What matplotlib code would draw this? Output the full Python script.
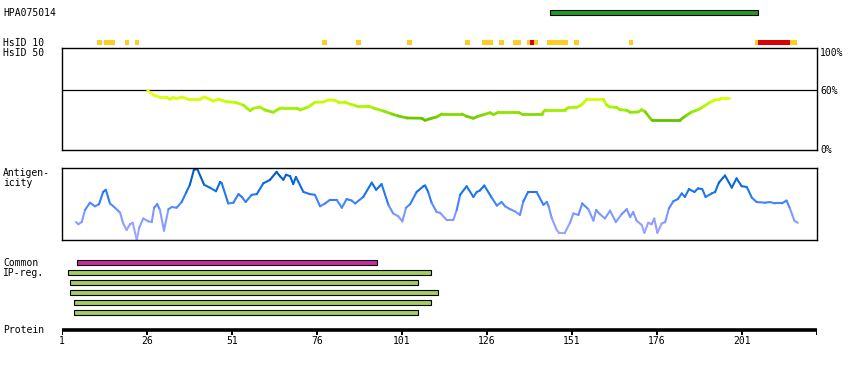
import matplotlib
matplotlib.use("Agg")
import matplotlib.pyplot as plt
import numpy as np
from matplotlib.collections import LineCollection
from matplotlib.colors import LinearSegmentedColormap

# ---------------- data ----------------
protein_length = 223.06
tick_residues = [1, 26, 51, 76, 101, 126, 151, 176, 201]

hpa_name = "HPA075014"
hpa_start, hpa_end = 144.6, 205.8

common_start, common_end = 5.5, 93.7
ip_starts = [2.7, 3.4, 3.4, 4.6, 4.6]
ip_ends = [109.6, 105.8, 111.6, 109.6, 105.8]

hsid10_yellow_start = [11.3, 13.4, 19.5, 22.5, 77.5, 87.5, 102.5, 119.5, 124.5, 129.5,
                       133.6, 137.8, 139.8, 143.6, 151.6, 167.8, 204.8, 215.1]
hsid10_yellow_end = [12.7, 16.6, 20.7, 23.6, 78.9, 88.9, 103.9, 120.9, 127.8, 130.9,
                     136.0, 138.6, 141.0, 149.8, 153.1, 169.0, 205.7, 217.2]
hsid10_red_start = [138.6, 205.7]
hsid10_red_end = [139.8, 215.1]

ident_res = [26.2, 27.9, 29.8, 31.8, 32.8, 33.7, 34.7, 36.2, 38.1, 41.6, 42.8, 44.5, 45.5,
             47.0, 49.4, 51.9, 54.3, 56.3, 57.3, 59.2, 60.7, 63.1, 65.1, 66.1, 70.0, 71.0,
             73.4, 75.4, 77.9, 79.3, 81.3, 82.3, 84.2, 85.7, 87.7, 91.1, 92.6, 95.5, 98.0,
             99.9, 102.4, 106.8, 107.8, 109.7, 111.2, 112.7, 118.6, 120.0, 122.0, 123.4,
             125.4, 126.9, 127.9, 129.3, 135.2, 136.2, 142.1, 143.1, 148.9, 149.9, 152.4,
             153.9, 155.3, 160.2, 161.2, 162.2, 164.1, 165.1, 167.1, 168.1, 170.5, 171.5,
             172.5, 174.4, 182.8, 184.7, 186.2, 188.1, 189.6, 191.6, 193.1, 194.5, 195.0, 197.2]
ident_pct = [59.6, 55.3, 53.0, 53.0, 51.0, 53.0, 51.6, 53.3, 51.0, 51.0, 53.3, 51.0, 49.2,
             51.0, 48.5, 47.9, 45.2, 39.5, 41.9, 43.2, 40.2, 37.9, 41.9, 42.2, 42.2, 40.2,
             43.2, 47.9, 48.2, 50.3, 49.9, 48.2, 48.2, 46.2, 44.2, 44.2, 42.2, 39.2, 36.2,
             34.2, 32.2, 31.9, 29.8, 31.9, 33.2, 36.2, 36.2, 33.9, 31.9, 33.9, 35.9, 37.5,
             35.5, 37.9, 37.9, 36.2, 36.2, 40.2, 40.2, 42.5, 42.9, 45.5, 51.0, 51.0, 45.2,
             43.2, 42.9, 40.5, 39.9, 37.9, 38.2, 40.5, 38.5, 30.2, 30.2, 34.9, 38.2, 40.5,
             43.5, 47.9, 50.3, 51.0, 52.3, 52.3]

anti_res = [5.1, 5.8, 6.8, 7.8, 9.2, 10.7, 11.9, 13.1, 13.9, 15.1, 16.6, 18.1, 19.0, 20.0,
            21.0, 21.8, 23.0, 23.7, 24.9, 26.4, 27.4, 28.1, 29.0, 29.8, 31.0, 32.3, 33.3,
            34.7, 36.2, 37.5, 38.6, 39.8, 40.8, 42.8, 44.5, 46.3, 47.5, 48.0, 49.9, 51.4,
            52.9, 53.9, 55.0, 56.8, 58.3, 60.2, 62.2, 64.1, 65.1, 66.1, 66.9, 68.1, 69.0,
            69.8, 72.0, 73.9, 75.4, 76.9, 78.4, 79.8, 81.8, 83.3, 84.7, 86.2, 87.2, 89.6,
            92.1, 93.4, 95.0, 97.0, 98.4, 99.9, 101.1, 102.2, 103.4, 105.3, 107.3, 107.8,
            108.7, 109.7, 111.2, 112.2, 114.1, 116.1, 117.1, 118.1, 120.0, 122.0, 123.0,
            123.9, 125.2, 127.4, 128.9, 130.3, 131.3, 132.8, 134.2, 135.7, 136.7, 138.1,
            140.6, 142.6, 143.6, 144.2, 145.0, 146.5, 147.2, 148.9, 150.4, 151.4, 152.9,
            154.0, 155.8, 157.3, 158.1, 159.2, 160.7, 162.2, 163.9, 165.6, 167.1, 168.1,
            169.0, 170.0, 171.5, 172.3, 173.4, 174.4, 175.2, 176.1, 177.4, 178.4, 179.5,
            180.8, 182.1, 183.3, 184.2, 185.4, 187.0, 188.1, 189.3, 190.3, 192.1, 193.1,
            194.2, 196.0, 198.0, 199.4, 200.9, 202.4, 203.9, 205.3, 207.8, 209.2, 210.7,
            212.7, 214.1, 215.1, 216.4, 217.4]
anti_val = [25, 22, 25, 42, 52, 47, 50, 67, 70, 51, 45, 38, 23, 14, 22, 24, 0, 17, 30, 26,
            25, 45, 50, 42, 13, 43, 46, 45, 53, 66, 77, 98, 99, 77, 73, 68, 81, 79, 51, 52,
            64, 60, 53, 63, 64, 79, 84, 95, 89, 84, 91, 89, 78, 88, 67, 64, 63, 47, 51, 56,
            56, 45, 57, 55, 51, 60, 80, 70, 78, 49, 37, 33, 26, 45, 50, 67, 75, 76, 67, 52,
            39, 38, 28, 28, 42, 63, 75, 60, 67, 69, 76, 59, 48, 53, 47, 43, 40, 35, 54, 67,
            67, 49, 53, 46, 31, 14, 10, 10, 24, 37, 35, 51, 43, 27, 42, 36, 30, 41, 25, 36,
            43, 32, 39, 27, 21, 10, 24, 22, 30, 10, 23, 25, 44, 54, 57, 65, 60, 71, 67, 72,
            71, 60, 65, 67, 80, 90, 73, 86, 75, 74, 59, 53, 52, 53, 51, 51, 55, 44, 27, 24]

# ---------------- layout helpers ----------------
W, H = 850, 370
X0, X1 = 62, 817
FONT = dict(family="DejaVu Sans Mono", fontsize=7, color="black")

fig = plt.figure(figsize=(W / 100, H / 100), dpi=100)
fig.patch.set_facecolor("white")


def fx(x):
    return x / W


def fy(y):
    return 1 - y / H


def ftext(x, y, s, ha="left", va="center"):
    fig.text(fx(x), fy(y), s, ha=ha, va=va, **FONT)


# background axes in residue / pixel-row coordinates
bg = fig.add_axes([fx(X0), 0, (X1 - X0) / W, 1])
bg.set_xlim(1, protein_length)
bg.set_ylim(H, 0)
bg.axis("off")

# HPA bar
bg.barh(12.5, hpa_end - hpa_start, left=hpa_start, height=4.3,
        color="#1f9c1f", edgecolor="black", linewidth=0.8)

# HsID 10 squares
bg.barh([42.5] * len(hsid10_yellow_start),
        np.array(hsid10_yellow_end) - np.array(hsid10_yellow_start),
        left=hsid10_yellow_start, height=5, color="#ffcc22", linewidth=0)
bg.barh([42.5] * len(hsid10_red_start),
        np.array(hsid10_red_end) - np.array(hsid10_red_start),
        left=hsid10_red_start, height=5, color="#dd0000", linewidth=0)

# Common region bar
bg.barh(262.5, common_end - common_start, left=common_start, height=4.3,
        color="#cc2aa0", edgecolor="black", linewidth=0.8)
# IP region bars
for i, (s, e) in enumerate(zip(ip_starts, ip_ends)):
    bg.barh(272.5 + 10 * i, e - s, left=s, height=4.3,
            color="#a4cc60", edgecolor="black", linewidth=0.8)

# protein axis
bg.plot([1, protein_length], [330, 330], color="black", linewidth=2.6,
        solid_capstyle="butt")
for t in tick_residues + [protein_length]:
    bg.plot([t, t], [330, 334.5], color="black", linewidth=1.4,
            solid_capstyle="butt")
for t in tick_residues:
    bg.text(t, 341, str(t), ha="center", va="center", **FONT)

# ---------------- identity panel ----------------
top_i, bot_i = 48.3, 150
axi = fig.add_axes([fx(X0), fy(bot_i), (X1 - X0) / W, (bot_i - top_i) / H])
axi.set_xlim(1, protein_length)
axi.set_ylim(0, 102.2)
axi.set_xticks([])
axi.set_yticks([])
for sp in axi.spines.values():
    sp.set_linewidth(1.0)
    sp.set_color("black")
axi.axhline(60, color="black", linewidth=0.9)

ident_cmap = LinearSegmentedColormap.from_list(
    "ident", [(0.0, "#5fc000"), (0.33, "#99ee00"), (0.66, "#ccff00"), (1.0, "#ffff22")])
ir = np.array(ident_res)
ip = np.array(ident_pct)
segs = [[(ir[k], ip[k]), (ir[k + 1], ip[k + 1])] for k in range(len(ir) - 1)]
cvals = np.clip(((ip[:-1] + ip[1:]) / 2 - 30) / 30, 0, 1)
lc = LineCollection(segs, colors=ident_cmap(cvals), linewidths=2.0, capstyle="round")
axi.add_collection(lc)

ftext(3, 42.5, "HsID 10")
ftext(3, 52.5, "HsID 50")
ftext(820, 52.5, "100%")
ftext(820, 91, "60%")
ftext(820, 150, "0%")
ftext(3, 12.5, hpa_name)

# ---------------- antigenicity panel ----------------
top_a, bot_a = 168.3, 240
axa = fig.add_axes([fx(X0), fy(bot_a), (X1 - X0) / W, (bot_a - top_a) / H])
axa.set_xlim(1, protein_length)
axa.set_ylim(0, 100)
axa.set_xticks([])
axa.set_yticks([])
for sp in axa.spines.values():
    sp.set_linewidth(1.0)
    sp.set_color("black")

anti_cmap = LinearSegmentedColormap.from_list(
    "anti", [(0.0, "#aaaaff"), (0.35, "#7f99ff"), (0.55, "#3a80ff"),
             (0.75, "#0a6ee6"), (1.0, "#0050b0")])
ar = np.array(anti_res)
av = np.array(anti_val, dtype=float)
segs = [[(ar[k], av[k]), (ar[k + 1], av[k + 1])] for k in range(len(ar) - 1)]
cvals = np.clip((av[:-1] + av[1:]) / 200, 0, 1)
lc = LineCollection(segs, colors=anti_cmap(cvals), linewidths=1.5, capstyle="round")
lc.set_clip_on(False)
axa.add_collection(lc)

ftext(3, 173, "Antigen-")
ftext(3, 183.5, "icity")
ftext(3, 263, "Common")
ftext(3, 273.5, "IP-reg.")
ftext(3, 330, "Protein")

fig.savefig("out.png", dpi=100, facecolor="white")
